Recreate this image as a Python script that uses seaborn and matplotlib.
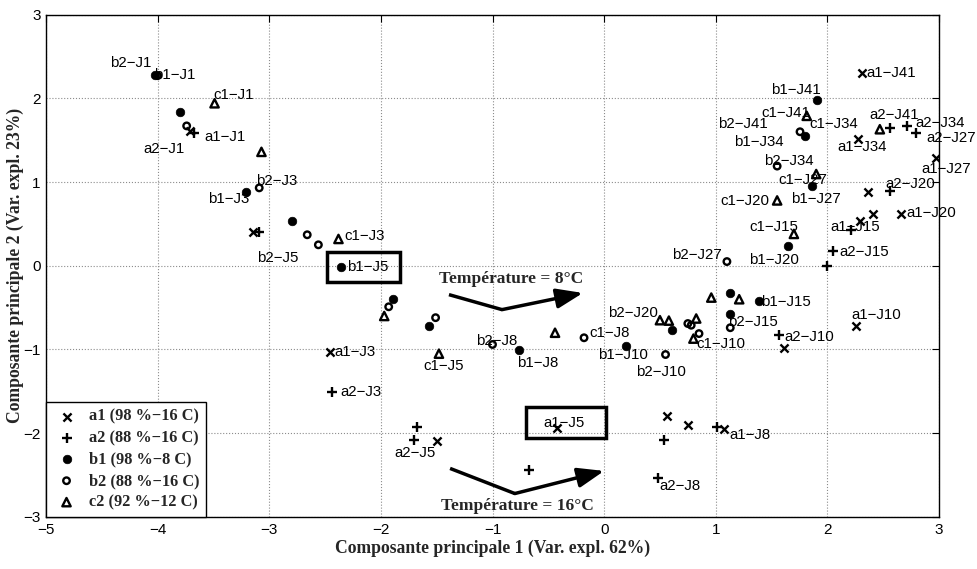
import matplotlib
matplotlib.use("Agg")
import matplotlib.pyplot as plt
import matplotlib.patches as mpatches
import seaborn as sns
import pandas as pd

# ---------------- data ----------------
a1_x = [-3.71, -3.15, -2.46, -1.50, -0.42, 0.56, 0.75, 1.07, 1.61, 2.26, 2.29, 2.41, 2.66, 2.36, 2.975, 2.27, 2.31]
a1_y = [1.61, 0.40, -1.03, -2.09, -1.94, -1.79, -1.905, -1.95, -0.98, -0.72, 0.535, 0.615, 0.615, 0.885, 1.29, 1.51, 2.30]

a2_x = [-3.67, -3.09, -2.44, -1.68, -1.70, -0.67, 0.54, 1.01, 0.48, 1.57, 2.00, 2.05, 2.21, 2.56, 2.56, 2.71, 2.795]
a2_y = [1.59, 0.40, -1.51, -1.925, -2.08, -2.44, -2.08, -1.925, -2.54, -0.83, 0.00, 0.18, 0.43, 0.89, 1.64, 1.67, 1.59]

b1_x = [-4.02, -3.80, -3.21, -2.80, -2.36, -1.89, -1.57, -0.76, 0.195, 0.61, 1.13, 1.13, 1.385, 1.65, 1.86, 1.80, 1.91]
b1_y = [2.28, 1.83, 0.885, 0.53, -0.01, -0.40, -0.72, -1.01, -0.956, -0.77, -0.325, -0.575, -0.42, 0.23, 0.95, 1.555, 1.98]

b2_x = [-4.00, -3.74, -3.09, -2.66, -2.56, -1.93, -1.51, -1.00, -0.18, 0.55, 0.75, 0.78, 0.85, 1.13, 1.10, 1.55, 1.755]
b2_y = [2.27, 1.67, 0.93, 0.37, 0.25, -0.49, -0.62, -0.94, -0.86, -1.06, -0.69, -0.71, -0.81, -0.74, 0.05, 1.19, 1.60]

c2_x = [-3.49, -3.07, -2.38, -1.97, -1.48, -0.44, 0.50, 0.58, 0.825, 0.80, 0.96, 1.21, 1.70, 1.55, 1.90, 1.815, 2.47]
c2_y = [1.94, 1.36, 0.32, -0.60, -1.05, -0.80, -0.65, -0.655, -0.63, -0.87, -0.38, -0.40, 0.38, 0.78, 1.095, 1.79, 1.63]

legend_labels = ["a1 (98 %\u221216 C)", "a2 (88 %\u221216 C)", "b1 (98 %\u22128 C)",
                 "b2 (88 %\u221216 C)", "c2 (92 %\u221212 C)"]

# point annotations: text, x, y (left / centre anchored)
ann_text = ["b2-J1", "b1-J1", "c1-J1", "a1-J1", "a2-J1", "b2-J3", "b1-J3", "c1-J3", "b2-J5", "b1-J5",
            "a1-J3", "a2-J3", "c1-J5", "b2-J8", "b1-J8", "c1-J8", "b1-J10", "b2-J10", "b2-J20", "c1-J10",
            "b2-J15", "b1-J15", "a2-J10", "a1-J10", "b2-J27", "b1-J20", "a2-J15", "c1-J15", "a1-J15", "c1-J20",
            "b1-J27", "c1-J27", "b2-J34", "a2-J20", "a1-J20", "a1-J34", "b1-J34", "b2-J41", "c1-J41", "c1-J34",
            "b1-J41", "a1-J41", "a2-J41", "a2-J34", "a2-J27", "a1-J27", "a1-J5", "a1-J8", "a2-J8", "a2-J5"]
ann_x = [-4.424, -4.030, -3.498, -3.578, -4.126, -3.118, -3.552, -2.326, -3.112, -2.305,
         -2.413, -2.364, -1.617, -1.144, -0.780, -0.128, -0.054, 0.284, 0.036, 0.829,
         1.107, 1.408, 1.614, 2.219, 0.610, 1.300, 2.111, 1.298, 2.030, 1.038,
         1.674, 1.564, 1.432, 2.524, 2.712, 2.093, 1.166, 1.022, 1.412, 1.836,
         1.495, 2.353, 2.377, 2.787, 2.883, 2.843, -0.547, 1.121, 0.491, -1.883]
ann_y = [2.417, 2.274, 2.044, 1.539, 1.393, 1.015, 0.794, 0.361, 0.092, -0.012,
         -1.032, -1.504, -1.199, -0.896, -1.158, -0.801, -1.071, -1.270, -0.563, -0.940,
         -0.670, -0.437, -0.849, -0.592, 0.131, 0.063, 0.163, 0.468, 0.468, 0.774,
         0.798, 1.024, 1.250, 0.973, 0.635, 1.420, 1.480, 1.687, 1.825, 1.690,
         2.095, 2.301, 1.798, 1.706, 1.520, 1.155, -1.873, -2.020, -2.635, -2.238]

xticks = [-5, -4, -3, -2, -1, 0, 1, 2, 3]
yticks = [-3, -2, -1, 0, 1, 2, 3]

# ---------------- plot ----------------
sns.set_theme(style="white")
plt.rcParams["font.family"] = ["Liberation Sans", "DejaVu Sans"]
plt.rcParams["axes.unicode_minus"] = True

fig = plt.figure(figsize=(9.77, 5.69), dpi=100)
ax = fig.add_axes([0.0471, 0.0914, 0.9140, 0.8831])

serif = ["Liberation Serif", "DejaVu Serif"]

df = pd.concat([
    pd.DataFrame({"x": a1_x, "y": a1_y, "g": "a1"}),
    pd.DataFrame({"x": a2_x, "y": a2_y, "g": "a2"}),
    pd.DataFrame({"x": b1_x, "y": b1_y, "g": "b1"}),
    pd.DataFrame({"x": b2_x, "y": b2_y, "g": "b2"}),
    pd.DataFrame({"x": c2_x, "y": c2_y, "g": "c2"}),
], ignore_index=True)

sns.scatterplot(data=df[df.g == "a1"], x="x", y="y", marker="x", s=34, color="black",
                linewidth=1.7, ax=ax, label=legend_labels[0], zorder=3)
sns.scatterplot(data=df[df.g == "a2"], x="x", y="y", marker="+", s=60, color="black",
                linewidth=1.7, ax=ax, label=legend_labels[1], zorder=3)
sns.scatterplot(data=df[df.g == "b1"], x="x", y="y", marker="o", s=38, color="black",
                edgecolor="black", linewidth=0.5, ax=ax, label=legend_labels[2], zorder=3)
sns.scatterplot(data=df[df.g == "b2"], x="x", y="y", marker="o", s=22, color="black",
                facecolor="none", edgecolor="black", linewidth=1.7, ax=ax,
                label=legend_labels[3], zorder=3)
sns.scatterplot(data=df[df.g == "c2"], x="x", y="y", marker="^", s=36, color="black",
                facecolor="none", edgecolor="black", linewidth=1.7, ax=ax,
                label=legend_labels[4], zorder=3)

for t, x, y in zip(ann_text, ann_x, ann_y):
    ax.text(x, y, t.replace("-", "\u2212"), ha="left", va="center", fontsize=10.8,
            color="black", zorder=4)

# boxes around highlighted labels
ax.add_patch(mpatches.Rectangle((-2.48, -0.195), 0.65, 0.365, fill=False, lw=2.5,
                                edgecolor="black", zorder=5))
ax.add_patch(mpatches.Rectangle((-0.70, -2.06), 0.715, 0.37, fill=False, lw=2.5,
                                edgecolor="black", zorder=5))

# arrows
ax.plot([-1.39, -0.915], [-0.345, -0.524], color="black", lw=2.5, solid_capstyle="butt", zorder=5)
ax.annotate("", xy=(-0.19, -0.325), xytext=(-0.915, -0.524),
            arrowprops=dict(arrowstyle="-|>,head_length=0.8,head_width=0.3", lw=2.5,
                            color="black", mutation_scale=20, shrinkA=0, shrinkB=0), zorder=5)
ax.plot([-1.38, -0.80], [-2.42, -2.72], color="black", lw=2.5, solid_capstyle="butt", zorder=5)
ax.annotate("", xy=(0.0, -2.45), xytext=(-0.80, -2.72),
            arrowprops=dict(arrowstyle="-|>,head_length=0.8,head_width=0.3", lw=2.5,
                            color="black", mutation_scale=20, shrinkA=0, shrinkB=0), zorder=5)
ax.text(-0.835, -0.155, "Température = 8°C", ha="center", va="center", fontsize=12.5,
        fontweight="bold", family=serif, zorder=5)
ax.text(-0.775, -2.87, "Température = 16°C", ha="center", va="center", fontsize=12.5,
        fontweight="bold", family=serif, zorder=5)

ax.set_xlim(-5, 3)
ax.set_ylim(-3, 3)
ax.set_xticks(xticks)
ax.set_yticks(yticks)
ax.tick_params(direction="in", length=5, width=0.8, top=True, right=True,
               labelsize=11, colors="black", pad=4)
ax.grid(True, linestyle=":", color="0.55", lw=0.8)
for sp in ax.spines.values():
    sp.set_color("black")
    sp.set_linewidth(1.0)
    sp.set_visible(True)

ax.set_xlabel("Composante principale 1 (Var. expl. 62%)", fontsize=12.7, fontweight="bold",
              family=serif)
ax.set_ylabel("Composante principale 2 (Var. expl. 23%)", fontsize=12.7, fontweight="bold",
              family=serif)
ax.xaxis.set_label_coords(0.5, -0.046)
ax.yaxis.set_label_coords(-0.025, 0.5)

leg = ax.legend(loc="lower left", borderaxespad=0, frameon=True, fancybox=False,
                prop=dict(family=serif, weight="bold", size=11.8), labelspacing=0.33,
                handletextpad=0.5, borderpad=0.4, handlelength=1.7)
leg.get_frame().set_edgecolor("black")
leg.get_frame().set_linewidth(1.0)
leg.get_frame().set_alpha(1)
leg.set_zorder(6)

fig.savefig("out.png", dpi=100)
